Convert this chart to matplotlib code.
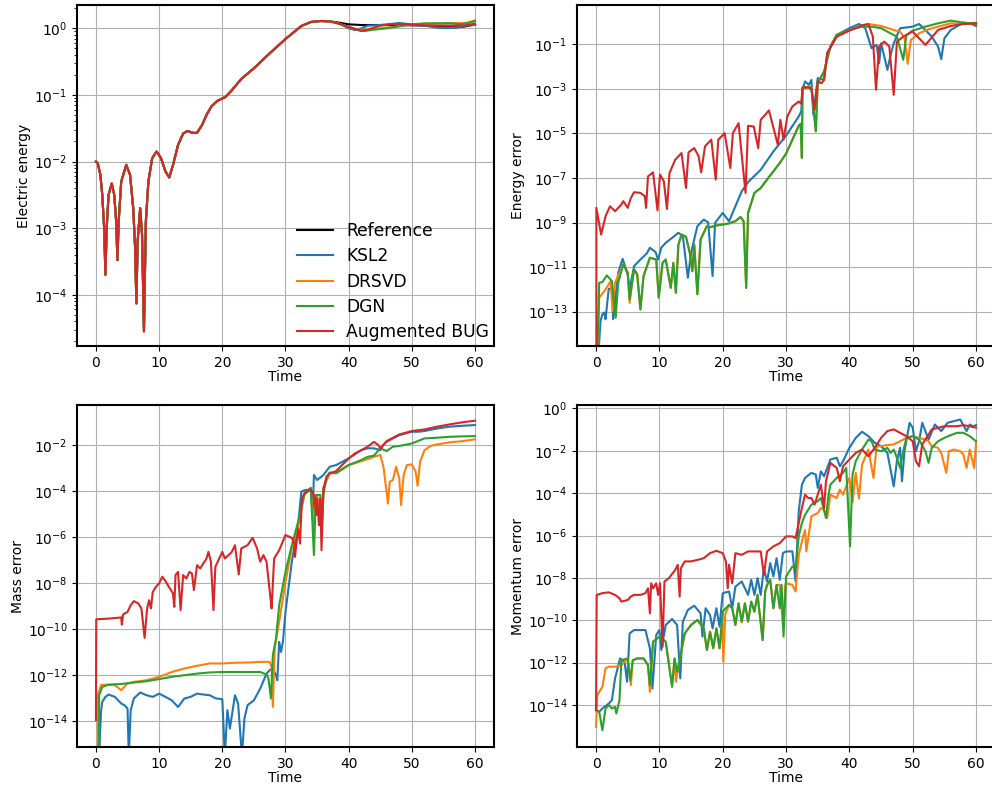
import numpy as np
import matplotlib.pyplot as plt

# values
# every series is a list of (time, log10(value)) pairs; -inf marks an exact zero
NEG = -np.inf

labels = ["Reference", "KSL2", "DRSVD", "DGN", "Augmented BUG"]
colors = ["black", "tab:blue", "tab:orange", "tab:green", "tab:red"]

# ---- electric energy (all methods share the first part of the curve) ----
ee_common = [(0, -2.0), (0.3, -2.03), (0.7, -2.2), (1.0, -2.5), (1.3, -3.0), (1.5, -3.7),
             (1.7, -3.0), (2.0, -2.5), (2.5, -2.33), (2.9, -2.5), (3.2, -2.9), (3.4, -3.48),
             (3.6, -2.9), (4.0, -2.3), (4.8, -2.05), (5.4, -2.2), (5.9, -2.7), (6.2, -3.3),
             (6.4, -4.13), (6.6, -3.2), (7.0, -2.7), (7.3, -3.1), (7.6, -4.55), (7.9, -2.9),
             (8.3, -2.3), (8.9, -1.95), (9.6, -1.85), (10.3, -1.95), (11.0, -2.15), (11.6, -2.24),
             (12.2, -2.05), (13.0, -1.75), (13.8, -1.58), (14.5, -1.54), (15.3, -1.57), (16.0, -1.57),
             (16.8, -1.45), (17.5, -1.3), (18.3, -1.17), (19.2, -1.09), (20.5, -1.03), (21.5, -0.93),
             (23.0, -0.76), (25.0, -0.60), (27.5, -0.375), (30.0, -0.16), (32.5, 0.035), (34.0, 0.095),
             (35.5, 0.11), (37.0, 0.105)]
ee_ref_tail = [(38.5, 0.085), (40, 0.06), (42, 0.05), (45, 0.05), (48, 0.05), (50, 0.045), (53, 0.04),
               (55, 0.03), (57, 0.015), (58.5, 0.03), (60, 0.06)]
ee_ksl2_tail = [(38.5, 0.07), (40, 0.0), (41, -0.025), (42, 0.0), (43, 0.04), (45, 0.05), (47, 0.07),
                (48, 0.08), (50, 0.06), (52, 0.04), (54, 0.01), (55, 0.005), (57, 0.01), (58.5, 0.04), (60, 0.05)]
ee_drsvd_tail = [(38.5, 0.07), (40, 0.02), (41.5, -0.02), (43, -0.02), (45, 0.0), (47, 0.02), (49, 0.05),
                 (51, 0.06), (53, 0.07), (55, 0.07), (57, 0.08), (58.5, 0.08), (60, 0.12)]
ee_dgn_tail = [(38.5, 0.07), (40, 0.02), (41.5, -0.025), (42.5, -0.04), (44, -0.02), (46, 0.0), (48, 0.03),
               (50, 0.06), (52, 0.075), (54, 0.075), (56, 0.078), (57.5, 0.06), (59, 0.08), (60, 0.11)]
ee_bug_tail = [(38.5, 0.07), (40, 0.02), (42, -0.04), (43, -0.02), (45, 0.04), (47, 0.065), (49, 0.06),
               (51, 0.05), (53, 0.04), (55, 0.04), (57, 0.04), (58.5, 0.045), (60, 0.07)]

# ---- energy error ----
en_ksl2 = [(0, NEG), (0.4, -14.8), (0.7, -13.42), (1.0, -13.12), (1.3, -13.04), (1.5, -13.34), (2.0, -11.97),
           (2.6, -12.0), (2.7, -13.34), (3.5, -11.25), (4.2, -10.63), (5.0, -11.33), (5.3, -12.0), (6.0, -10.96),
           (7.0, -10.66), (8.0, -10.39), (8.5, -10.13), (9.4, -10.33), (9.8, -10.66), (10.3, -10.13), (11.0, -9.91),
           (12.0, -9.69), (13.0, -9.46), (13.7, -9.61), (14.5, -11.48), (15.0, -10.36), (16.0, -9.16), (17.0, -8.87),
           (17.7, -8.99), (18.4, -11.4), (18.8, -9.01), (20.0, -8.57), (21.0, -8.94), (22.0, -8.27), (23.0, -7.6),
           (24.0, -7.19), (26.0, -6.63), (28.0, -5.81), (30.0, -5.1), (32.0, -4.24), (32.4, -4.01), (32.6, -3.01),
           (33.0, -2.67), (33.6, -2.82), (34.0, -2.6), (34.3, -4.16), (35.0, -2.52), (36.0, -2.6), (36.5, -1.4),
           (38.0, -0.58), (40.0, -0.28), (41.5, -0.09), (42.5, -0.28), (43.5, -1.18), (44.3, -1.03), (44.7, -1.85),
           (45.0, -0.96), (45.7, -1.78), (46.0, -2.15), (46.5, -1.48), (47.0, -0.96), (48.0, -0.28), (50.0, -0.21),
           (51.0, -0.09), (52.0, -0.36), (53.0, -0.66), (54.0, -1.1), (54.5, -1.67), (55.0, -0.73), (56.0, -0.36),
           (58.0, -0.03), (59.0, -0.06), (60.0, -0.18)]
en_dgn = [(0, NEG), (0.2, -14.8), (0.5, -11.7), (1.0, -11.67), (1.7, -11.37), (2.5, -11.63), (3.1, -13.27),
          (3.5, -11.7), (4.3, -10.88), (5.0, -11.25), (5.3, -12.45), (6.0, -11.1), (6.5, -11.33), (7.0, -12.9),
          (7.5, -11.4), (8.5, -10.58), (9.5, -10.66), (9.9, -12.37), (10.5, -10.81), (11.0, -10.66), (11.8, -11.93),
          (12.2, -10.81), (12.6, -12.15), (13.0, -9.99), (13.5, -9.54), (14.2, -9.64), (14.8, -10.36), (15.2, -11.18),
          (15.5, -9.99), (16.0, -12.22), (16.5, -9.76), (17.5, -9.16), (18.0, -9.21), (19.0, -9.13), (20.0, -9.09),
          (21.0, -9.04), (22.0, -8.94), (22.8, -8.75), (23.3, -8.94), (23.7, -11.93), (24.0, -8.57), (25.0, -7.67),
          (26.0, -7.45), (27.0, -7.07), (28.0, -6.70), (29.0, -6.33), (30.0, -5.91), (31.0, -5.28), (32.0, -4.66),
          (32.3, -4.57), (32.5, -6.1), (32.6, -2.97), (33.5, -2.93), (34.0, -2.93), (34.7, -4.91), (35.0, -2.75),
          (36.0, -2.22), (37.0, -1.1), (38.0, -0.58), (40.0, -0.36), (42.0, -0.21), (43.5, -0.21), (45.0, -0.28),
          (46.5, -0.51), (47.5, -0.66), (48.5, -1.7), (49.0, -0.58), (50.0, -0.39), (52.0, -0.21), (54.0, -0.06),
          (56.0, 0.06), (58.0, -0.03), (60.0, -0.09)]
en_drsvd = [(0, NEG), (0.3, -14.8), (0.5, -12.37), (1.5, -12.0), (2.3, -11.63), (2.6, -12.97), (3.0, -11.7),
            (4.3, -10.88), (5.0, -11.25), (5.3, -12.6), (6.0, -11.1), (6.5, -11.33), (7.0, -12.9), (7.5, -11.4),
            (8.5, -10.58), (9.5, -10.66), (9.9, -12.37), (10.5, -10.81), (11.0, -10.66), (11.8, -11.93),
            (12.2, -10.81), (12.6, -12.15), (13.0, -9.99), (13.5, -9.54), (14.2, -9.64), (14.8, -10.36),
            (15.2, -11.18), (15.5, -9.99), (16.0, -12.22), (16.5, -9.76), (17.5, -9.16), (18.0, -9.21),
            (19.0, -9.13), (20.0, -9.09), (21.0, -9.04), (22.0, -8.94), (22.8, -8.75), (23.3, -8.94),
            (23.7, -11.93), (24.0, -8.57), (25.0, -7.67), (26.0, -7.45), (27.0, -7.07), (28.0, -6.70),
            (29.0, -6.33), (30.0, -5.91), (31.0, -5.28), (32.0, -4.66), (32.3, -4.57), (32.5, -6.1), (32.6, -2.97),
            (33.5, -2.93), (34.0, -2.93), (34.7, -4.91), (35.0, -2.75), (36.0, -2.22), (37.0, -1.1), (38.0, -0.58),
            (40.0, -0.36), (42.0, -0.18), (43.0, -0.09), (45.0, -0.18), (47.0, -0.36), (48.0, -0.43), (48.7, -0.73),
            (49.2, -1.88), (49.7, -0.81), (51.0, -0.51), (52.5, -0.33), (54.0, -0.21), (56.0, -0.06), (58.0, -0.09),
            (60.0, -0.03)]
en_bug = [(0, NEG), (0.05, -8.34), (0.8, -9.54), (1.5, -8.72), (2.2, -8.27), (3.0, -8.49), (4.0, -8.19),
          (4.3, -8.04), (5.0, -8.34), (5.5, -7.9), (6.0, -7.64), (7.0, -7.67), (7.7, -7.82), (7.9, -8.34),
          (8.2, -6.93), (9.0, -6.75), (9.7, -8.45), (10.1, -6.85), (10.7, -7.15), (11.2, -8.39), (11.6, -6.78),
          (12.5, -6.18), (13.5, -5.88), (14.2, -7.45), (14.6, -5.85), (15.5, -5.66), (16.2, -6.03), (16.6, -6.75),
          (17.2, -5.58), (18.2, -5.28), (18.9, -7.07), (19.3, -5.28), (20.3, -4.99), (21.2, -6.55), (21.6, -4.99),
          (22.5, -4.54), (23.6, -7.67), (24.0, -4.66), (24.9, -4.69), (25.6, -5.66), (26.0, -4.39), (27.3, -3.97),
          (28.7, -5.51), (29.1, -4.39), (29.6, -5.28), (30.2, -4.24), (31.0, -3.79), (32.0, -3.57), (32.4, -3.67),
          (32.6, -2.93), (33.5, -2.93), (34.0, -3.01), (34.5, -3.94), (35.0, -2.67), (35.6, -2.75), (36.0, -2.6),
          (36.5, -1.4), (38.0, -0.66), (40.0, -0.39), (42.0, -0.15), (43.0, -0.09), (43.7, -0.66), (44.2, -3.04),
          (44.7, -1.1), (45.5, -0.88), (46.3, -1.1), (47.0, -3.27), (47.5, -0.88), (48.5, -0.66), (50.0, -0.43),
          (52.0, -1.03), (54.0, -0.36), (56.0, -0.18), (58.0, -0.09), (60.0, -0.06)]

# ---- mass error ----
ma_ksl2 = [(0, NEG), (0.5, -15.5), (0.8, -13.59), (1, -13.16), (1.5, -12.94), (2, -12.84), (3, -12.94), (4, -13.23),
           (4.5, -13.3), (5, -13.45), (5.2, -15.5), (5.5, -13.52), (6, -13.01), (7, -12.75), (8, -12.87), (9, -12.94),
           (10, -12.8), (11, -12.94), (12, -13.09), (13, -13.38), (14, -13.01), (15, -12.94), (16, -12.8), (17, -12.84),
           (18, -12.87), (19, -13.01), (20, -13.04), (20.4, -15.5), (20.8, -13.52), (21.2, -14.32), (22, -12.87),
           (22.5, -13.23), (23.1, -15.5), (23.5, -13.88), (24, -13.3), (25, -13.09), (26, -12.58), (27, -11.93),
           (27.5, -11.78), (28, -11.71), (28.5, -12.0), (28.7, -12.22), (29, -10.55), (29.3, -10.99), (29.6, -10.52),
           (30, -9.25), (31, -7.07), (32, -5.48), (32.5, -4.03), (33, -3.96), (34, -3.93), (34.3, -4.97), (34.5, -3.3),
           (35, -3.52), (36, -3.3), (37, -2.94), (38, -2.87), (40, -2.58), (42, -2.22), (43, -2.14), (44, -2.14),
           (45, -2.22), (45.5, -2.0), (46, -1.86), (47, -1.71), (48, -1.57), (50, -1.42), (51, -1.42), (52, -1.39),
           (54, -1.28), (56, -1.2), (58, -1.16), (60, -1.13)]
ma_drsvd = [(0, NEG), (0.3, -12.87), (0.8, -12.43), (1.5, -12.41), (3, -12.43), (4, -12.65), (5, -12.36), (6, -12.29),
            (8, -12.22), (10, -12.07), (12, -11.86), (14, -11.71), (16, -11.59), (18, -11.49), (20, -11.49),
            (22, -11.46), (24, -11.45), (26, -11.42), (27.5, -11.42), (27.8, -11.64), (28, -13.38), (28.3, -10.8),
            (29, -9.68), (30, -7.94), (31, -6.49), (32, -5.48), (33, -4.17), (34, -3.86), (34.4, -5.48), (34.8, -4.32),
            (35, -4.17), (35.6, -5.33), (36, -3.88), (37, -3.23), (38, -3.19), (40, -2.87), (42, -2.7), (44, -2.51),
            (45, -2.43), (45.5, -2.94), (46, -4.03), (46.2, -4.54), (46.5, -3.59), (47, -3.52), (47.5, -2.94),
            (48, -3.45), (48.3, -4.61), (48.7, -3.3), (49.2, -2.87), (50, -2.84), (50.6, -3.16), (50.9, -3.77),
            (51.3, -2.72), (52, -2.22), (53, -2.03), (54, -1.97), (56, -1.88), (58, -1.83), (60, -1.75)]
ma_dgn = [(0, NEG), (0.5, -12.87), (1, -12.51), (2, -12.41), (4, -12.38), (6, -12.32), (8, -12.26), (10, -12.17),
          (12, -12.07), (14, -12.0), (16, -11.93), (18, -11.88), (20, -11.86), (22, -11.86), (24, -11.86),
          (26, -11.86), (27, -11.97), (27.3, -12.14), (27.7, -13.01), (28, -11.13), (28.5, -10.41), (29, -8.96),
          (30, -7.51), (31, -6.35), (32, -5.33), (33, -4.1), (34, -3.86), (34.5, -6.78), (34.8, -4.17), (35.5, -4.17),
          (35.8, -5.41), (36, -4.17), (36.5, -3.38), (37, -3.19), (38, -3.23), (40, -2.87), (42, -2.65), (43, -2.51),
          (44, -2.46), (45, -2.14), (46, -2.26), (47, -2.07), (48, -2.04), (50, -1.93), (52, -1.71), (54, -1.68),
          (56, -1.64), (58, -1.62), (60, -1.61)]
ma_bug = [(0, -13.96), (0.05, -9.57), (2, -9.54), (4, -9.49), (4.1, -9.8), (4.3, -9.36), (5, -9.25), (5.5, -8.96),
          (6, -8.78), (6.7, -8.88), (7.2, -9.1), (7.7, -10.38), (8.1, -9.1), (8.4, -8.74), (8.7, -9.1), (9, -8.38),
          (9.5, -8.16), (10, -8.01), (10.5, -7.72), (11, -7.91), (11.7, -8.23), (12.2, -8.45), (12.4, -9.03),
          (12.6, -7.65), (13, -7.51), (13.4, -9.17), (13.8, -7.65), (14.3, -7.8), (14.8, -7.51), (15.2, -7.58),
          (15.5, -8.3), (16, -7.22), (16.5, -7.36), (17, -7.14), (17.5, -6.93), (17.8, -6.64), (18.2, -7.07),
          (18.6, -9.17), (18.9, -7.29), (19.5, -6.93), (20, -6.64), (20.4, -6.93), (21, -6.78), (21.5, -6.64),
          (22, -6.35), (22.6, -7.62), (23, -6.49), (24, -6.35), (24.8, -6.03), (25.5, -6.49), (26, -7.07),
          (26.5, -6.78), (27, -7.07), (27.6, -8.59), (27.8, -9.1), (28.2, -6.93), (29, -6.57), (30, -5.91),
          (31, -6.03), (31.4, -6.28), (31.5, -6.86), (32, -5.62), (32.3, -6.28), (32.6, -4.32), (33, -4.1),
          (34, -3.93), (34.5, -4.17), (34.9, -5.04), (35, -4.32), (35.3, -5.48), (35.5, -4.32), (35.7, -6.57),
          (36, -3.88), (36.5, -3.38), (37, -3.23), (38, -3.13), (40, -2.58), (41, -2.36), (42, -2.22), (43, -2.07),
          (44, -1.86), (44.7, -2.0), (45, -2.14), (46, -1.83), (48, -1.54), (50, -1.39), (52, -1.32), (54, -1.2),
          (56, -1.1), (58, -1.01), (60, -0.94)]

# ---- momentum error ----
mo_ksl2 = [(0, -14.24), (0.5, -14.32), (1, -14.16), (2, -13.93), (2.5, -13.77), (3, -12.74), (3.8, -11.8),
           (4.5, -11.96), (4.9, -12.9), (5.3, -10.62), (6, -10.46), (7, -10.46), (7.8, -10.46), (8.5, -11.32),
           (8.9, -13.22), (9.5, -10.69), (10, -10.46), (10.3, -11.4), (11, -10.22), (12, -9.94), (12.8, -10.22),
           (13.3, -12.74), (13.7, -10.07), (14.5, -9.51), (15.5, -9.31), (16.5, -9.67), (16.8, -10.77), (17.3, -9.43),
           (18, -9.75), (18.4, -10.38), (19, -9.43), (19.5, -10.3), (20, -8.72), (21, -8.64), (21.5, -9.43),
           (22, -8.41), (23, -8.17), (24, -8.8), (24.5, -8.09), (25, -8.8), (25.5, -8.01), (26, -8.8), (26.5, -7.54),
           (27, -8.17), (27.5, -7.3), (28, -7.93), (28.5, -7.07), (29, -8.09), (29.5, -6.83), (30, -6.75),
           (31, -6.75), (31.5, -8.17), (32, -4.86), (32.5, -3.6), (33, -3.28), (34, -3.04), (34.7, -3.12),
           (35, -3.75), (35.5, -2.97), (36, -3.2), (36.5, -2.81), (37, -2.41), (38, -2.33), (38.5, -2.73),
           (39, -2.49), (40, -1.86), (41, -1.39), (42, -1.1), (43, -1.31), (44, -1.62), (45, -1.78), (46, -2.1),
           (47, -3.68), (47.5, -2.49), (48, -1.86), (48.3, -3.44), (48.7, -2.02), (49.5, -0.68), (50, -0.91),
           (50.5, -2.02), (51, -1.55), (51.5, -0.68), (52, -1.07), (52.5, -1.47), (53.5, -0.76), (54.5, -1.07),
           (55.5, -0.68), (56.5, -0.6), (57.5, -0.52), (58.5, -1.07), (59, -0.76), (59.5, -0.84), (60, -0.79)]
mo_drsvd = [(0, -15.03), (0.2, -13.53), (0.5, -13.38), (1, -13.14), (1.5, -12.27), (2, -12.19), (3, -12.19),
            (4, -12.11), (4.5, -11.96), (5, -11.83), (5.5, -13.06), (5.8, -11.88), (6.5, -11.8), (7.5, -11.8),
            (8.2, -12.11), (8.5, -13.38), (9, -11.01), (10, -10.77), (11, -11.01), (12, -13.06), (12.4, -11.8),
            (12.6, -12.9), (13.2, -11.88), (14, -10.62), (15, -10.22), (16, -9.98), (17, -10.38), (17.5, -11.4),
            (18, -10.54), (18.5, -11.32), (19, -10.38), (19.5, -11.32), (19.9, -10.2), (20.1, -11.96), (20.4, -9.7),
            (21, -9.27), (21.5, -9.43), (22, -10.22), (22.5, -9.2), (23, -10.1), (23.5, -9.2), (24, -10.06),
            (24.5, -9.12), (25, -9.59), (25.5, -8.8), (26.3, -10.93), (26.7, -8.64), (27, -8.33), (27.5, -8.09),
            (28, -9.43), (28.5, -8.33), (29, -8.33), (29.5, -10.22), (29.9, -8.33), (30, -8.25), (31, -8.33),
            (31.5, -8.64), (32, -6.91), (32.5, -6.28), (33, -5.73), (33.2, -6.75), (34, -5.09), (35, -4.94),
            (35.5, -4.7), (36, -4.78), (36.5, -5.17), (37, -4.07), (38, -4.23), (38.5, -3.83), (39, -4.07),
            (40, -3.28), (40.5, -4.42), (41, -3.04), (41.5, -4.26), (42, -2.65), (43, -1.94), (43.8, -3.28),
            (44.3, -1.78), (45, -1.78), (46, -1.73), (47, -1.7), (48, -1.55), (49, -1.39), (50, -1.31), (51, -1.39),
            (52, -1.47), (52.5, -1.55), (53, -1.78), (54, -1.86), (54.5, -2.1), (55.3, -3.04), (55.7, -2.02),
            (56.5, -1.94), (57.5, -2.02), (58, -2.18), (58.5, -2.81), (59, -1.94), (59.7, -2.81), (60, -1.62)]
mo_dgn = [(0, -14.24), (0.5, -14.32), (1, -15.19), (1.5, -14.16), (2, -14.0), (2.5, -14.16), (3, -14.09),
          (3.2, -14.4), (3.7, -13.77), (4, -11.88), (5, -11.8), (5.4, -12.82), (5.8, -11.88), (6.5, -11.8),
          (7.5, -11.8), (8.2, -12.11), (8.5, -13.06), (9, -11.01), (10, -10.77), (11, -11.01), (12, -13.14),
          (12.4, -11.8), (12.8, -12.43), (13.2, -11.88), (14, -10.62), (15, -10.22), (16, -9.98), (17, -10.38),
          (17.5, -11.4), (18, -10.54), (18.5, -11.32), (19, -10.38), (19.5, -11.32), (20, -9.59), (21, -9.27),
          (21.5, -9.43), (22, -10.22), (22.5, -9.2), (23, -10.06), (23.5, -9.2), (24, -10.06), (24.5, -9.12),
          (25, -9.59), (25.5, -8.8), (26.3, -10.93), (26.7, -8.64), (27, -8.33), (27.5, -8.09), (28, -9.43),
          (28.5, -8.33), (29, -9.43), (29.3, -8.33), (29.6, -10.77), (30, -7.93), (31, -7.46), (31.5, -7.54),
          (32, -6.04), (32.5, -5.41), (33, -5.02), (34, -4.54), (35, -4.38), (35.5, -4.23), (36.3, -5.17),
          (36.7, -4.07), (37, -3.6), (38, -3.28), (39, -3.04), (39.5, -2.81), (40.1, -6.51), (40.5, -3.12),
          (41, -2.49), (42, -1.94), (43, -1.47), (43.5, -1.55), (44, -1.94), (45, -2.02), (46, -1.86), (46.5, -2.1),
          (47, -1.94), (47.5, -2.33), (48, -2.81), (48.5, -2.02), (49, -1.39), (50, -1.31), (51, -1.47),
          (52, -2.02), (52.5, -2.57), (53, -1.86), (54, -1.55), (55, -1.39), (56, -1.26), (57, -1.15), (58, -1.15),
          (59, -1.31), (60, -1.55)]
mo_bug = [(0, -14.24), (0.1, -8.8), (1, -8.72), (2, -8.68), (3, -8.8), (3.7, -8.96), (4, -9.12), (5, -9.04),
          (5.5, -8.88), (6, -8.8), (7, -8.8), (7.8, -8.72), (8.2, -8.49), (8.5, -9.67), (8.7, -8.25), (9, -8.49),
          (9.5, -8.25), (9.8, -8.8), (10.1, -8.25), (10.5, -11.25), (10.8, -8.17), (11.5, -8.01), (12.5, -7.62),
          (12.9, -7.38), (13.2, -8.88), (13.4, -7.54), (14, -7.22), (15, -7.22), (16, -7.15), (17, -7.07),
          (18, -6.83), (19, -6.72), (20, -6.83), (20.5, -7.22), (20.8, -8.49), (21, -7.38), (21.5, -8.25),
          (22, -6.83), (23, -6.91), (24, -6.75), (25, -6.75), (26, -6.75), (26.5, -7.85), (27, -6.75), (28, -6.51),
          (29, -6.36), (30, -6.04), (31, -6.04), (31.5, -6.12), (32, -5.41), (32.5, -4.7), (33, -4.07),
          (33.5, -4.23), (34, -4.23), (34.5, -4.54), (35, -4.07), (35.5, -3.6), (36, -4.7), (36.3, -3.44),
          (37, -2.57), (38, -2.81), (38.5, -3.44), (39, -2.73), (40, -2.41), (41, -2.1), (42, -1.94), (43, -2.26),
          (44, -1.86), (45, -1.39), (46, -1.07), (47, -0.99), (48, -1.15), (49, -1.31), (50, -1.55), (50.5, -2.49),
          (51, -2.73), (51.5, -1.7), (52, -1.47), (53, -0.99), (55, -0.84), (57, -0.84), (58, -0.79), (59, -0.84),
          (60, -0.91)]

panels = [
    ("Electric energy", [ee_common + ee_ref_tail, ee_common + ee_ksl2_tail, ee_common + ee_drsvd_tail,
                         ee_common + ee_dgn_tail, ee_common + ee_bug_tail], (-4.77, 0.35)),
    ("Energy error", [None, en_ksl2, en_drsvd, en_dgn, en_bug], (-14.54, 0.76)),
    ("Mass error", [None, ma_ksl2, ma_drsvd, ma_dgn, ma_bug], (-15.12, -0.26)),
    ("Momentum error", [None, mo_ksl2, mo_drsvd, mo_dgn, mo_bug], (-15.98, 0.16)),
]

fig = plt.figure(figsize=(9.92, 7.86), dpi=100)
# axes boxes in figure fractions (the right column runs slightly past the figure edge)
boxes = [(0.0776, 0.5598, 0.4204, 0.4338), (0.5817, 0.5598, 0.4214, 0.4338),
         (0.0776, 0.0496, 0.4204, 0.4351), (0.5817, 0.0496, 0.4214, 0.4351)]

for (ylabel, series, ylim), box in zip(panels, boxes):
    ax = fig.add_axes(box)
    for data, lab, col in zip(series, labels, colors):
        if data is None:
            continue
        t = np.array([p[0] for p in data])
        v = 10.0 ** np.array([p[1] for p in data])
        ax.plot(t, v, color=col, lw=1.5, label=lab)
    ax.set_yscale("log")
    ax.set_xlim(-3, 63)
    ax.set_ylim(10.0 ** ylim[0], 10.0 ** ylim[1])
    ax.set_xticks([0, 10, 20, 30, 40, 50, 60])
    ax.set_xlabel("Time", labelpad=0)
    ax.set_ylabel(ylabel, labelpad=2)
    ax.grid(True)
    for s in ax.spines.values():
        s.set_linewidth(1.5)
    if ylabel == "Electric energy":
        ax.legend(loc="lower right", frameon=False, fontsize=12.3, handlelength=2.1,
                  handletextpad=0.75, borderaxespad=0.1, borderpad=0.2, labelspacing=0.42)

fig.savefig("out.png", dpi=100)
